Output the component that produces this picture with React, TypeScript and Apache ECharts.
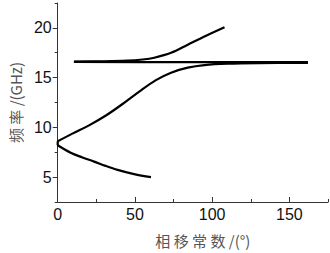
import React, { useEffect, useRef } from "react";
import * as echarts from "echarts";

const xMajorTicks = [0, 50, 100, 150];
const xMinorTicks = [25, 75, 125, 175];
const yMajorTicks = [5, 10, 15, 20];
const yMinorTicks = [2.5, 7.5, 12.5, 17.5, 22.5];

const cuspJoin: [number, number][] = [
  [0, 8.6], [0, 8.2],
];
const lowerBranch: [number, number][] = [
  [0, 8.2], [8.4, 7.45], [16, 6.98], [23.6, 6.56], [31, 6.13], [38.8, 5.73], [49.5, 5.3], [60.4, 5.0],
];
const risingBranch: [number, number][] = [
  [0, 8.6], [9.5, 9.37], [20.3, 10.2], [31.2, 11.19], [42, 12.35], [52.8, 13.6], [63.6, 14.75],
  [73.4, 15.5], [84.2, 16.0], [95, 16.26], [110, 16.4], [130, 16.46], [162, 16.48],
];
const flatBranch: [number, number][] = [
  [10.5, 16.58], [80, 16.56], [162, 16.55],
];
const upperBranch: [number, number][] = [
  [10.5, 16.62], [30, 16.64], [45, 16.7], [55, 16.82], [62.5, 17.0], [73.4, 17.49], [84.2, 18.31], [95, 19.14], [108, 20.07],
];

export default function App() {
  const ref = useRef<HTMLDivElement>(null);
  useEffect(() => {
    if (!ref.current) return;
    const chart = echarts.init(ref.current, undefined, { renderer: "svg" });
    const lineStyle = { color: "#000", width: 2.2 };
    const mk = (data: [number, number][], smooth: number) => ({
      type: "line",
      data,
      smooth,
      showSymbol: false,
      symbol: "none",
      lineStyle,
      xAxisIndex: 0,
      yAxisIndex: 0,
    });
    const labelFont = { fontFamily: "Liberation Sans", fontSize: 16, color: "#111" };
    chart.setOption({
      animation: false,
      grid: { left: 57, right: 2, top: 3, bottom: 48, containLabel: false },
      xAxis: [
        {
          type: "value",
          min: 0,
          max: 175,
          axisLine: { show: true, lineStyle: { color: "#333", width: 1 } },
          axisTick: { show: true, inside: true, length: 5, customValues: xMajorTicks, lineStyle: { color: "#333" } },
          axisLabel: { customValues: xMajorTicks, margin: 5, ...labelFont },
          splitLine: { show: false },
          name: "相 移 常 数 /(°)",
          nameLocation: "middle",
          nameGap: 31,
          nameTextStyle: { fontFamily: "Noto Sans CJK SC", fontSize: 15, color: "#555", padding: [0, 0, 0, 20] },
        },
        {
          type: "value",
          min: 0,
          max: 175,
          position: "bottom",
          axisLine: { show: false },
          axisTick: { show: true, inside: true, length: 3, customValues: xMinorTicks, lineStyle: { color: "#333" } },
          axisLabel: { show: false },
          splitLine: { show: false },
        },
      ],
      yAxis: [
        {
          type: "value",
          min: 2.5,
          max: 22.5,
          axisLine: { show: true, lineStyle: { color: "#333", width: 1 } },
          axisTick: { show: true, inside: false, length: 5, customValues: yMajorTicks, lineStyle: { color: "#333" } },
          axisLabel: { customValues: yMajorTicks, margin: 6, ...labelFont },
          splitLine: { show: false },
          name: "频 率 /(GHz)",
          nameLocation: "middle",
          nameGap: 33,
          nameTextStyle: { fontFamily: "Noto Sans CJK SC", fontSize: 15, color: "#555" },
        },
        {
          type: "value",
          min: 2.5,
          max: 22.5,
          position: "left",
          axisLine: { show: false },
          axisTick: { show: true, inside: false, length: 3, customValues: yMinorTicks, lineStyle: { color: "#333" } },
          axisLabel: { show: false },
          splitLine: { show: false },
        },
      ],
      series: [
        mk(cuspJoin, 0),
        mk(lowerBranch, 0.35),
        mk(risingBranch, 0.35),
        mk(flatBranch, 0.35),
        mk(upperBranch, 0.35),
      ],
    });
    return () => chart.dispose();
  }, []);
  return <div ref={ref} style={{ width: 330, height: 253, position: "absolute", left: 0, top: 0 }} />;
}
